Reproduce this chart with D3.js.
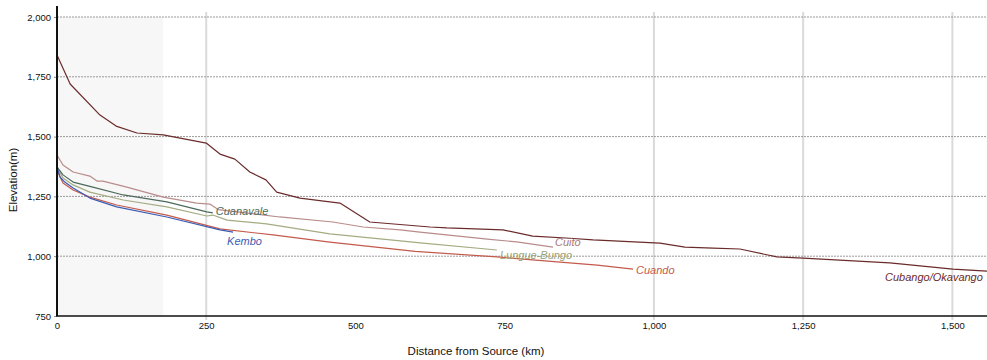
<!DOCTYPE html>
<html><head><meta charset="utf-8">
<script src="https://cdn.jsdelivr.net/npm/d3@7"></script>
<style>
body{margin:0;background:#fff;}
svg{display:block;font-family:"Liberation Sans",Arial,sans-serif;}
</style></head>
<body><svg id="c" width="987" height="360"></svg>
<script>
const yTicks = [750, 1000, 1250, 1500, 1750, 2000];
const xTicks = [0, 250, 500, 750, 1000, 1250, 1500];
const xGridTicks = [250, 1000, 1250, 1500];
const shadedKm = [0, 178];

const riverNames = ["Cubango/Okavango", "Cuito", "Cuanavale", "Lungue-Bungo", "Cuando", "Kembo"];
const riverColors = ["#6b2b2b", "#b98c8c", "#4c6a5c", "#a4ac82", "#c35a4c", "#3b5cb6"];
const labelColors = ["#6b2b2b", "#a87878", "#4c6a5c", "#9aa478", "#c35a4c", "#3b5cb6"];

const cubango = [[0,1841],[22,1720],[72,1590],[99,1544],[134,1515],[178,1507],[250,1473],[273,1427],[298,1406],[323,1352],[350,1319],[368,1268],[407,1243],[457,1227],[474,1222],[524,1143],[625,1122],[653,1118],[747,1110],[797,1084],[859,1075],[898,1068],[1010,1055],[1052,1038],[1099,1034],[1144,1030],[1206,997],[1250,992],[1395,972],[1501,946],[1558,938]];
const cuito = [[0,1423],[10,1381],[27,1352],[55,1335],[67,1314],[77,1314],[117,1289],[178,1247],[234,1222],[256,1218],[270,1195],[373,1164],[462,1143],[513,1122],[575,1110],[608,1101],[725,1070],[770,1060],[831,1038]];
const cuanavale = [[0,1373],[10,1340],[27,1310],[60,1289],[111,1256],[184,1227],[251,1185],[261,1181]];
const lungueBungo = [[0,1373],[10,1327],[27,1298],[55,1268],[111,1235],[184,1206],[251,1168],[261,1172],[285,1151],[351,1135],[457,1093],[613,1055],[737,1026]];
const cuando = [[0,1360],[10,1306],[27,1277],[55,1247],[100,1214],[184,1172],[273,1114],[362,1089],[457,1059],[600,1020],[737,997],[905,963],[965,946]];
const kembo = [[0,1373],[5,1331],[13,1310],[27,1285],[55,1243],[100,1206],[184,1164],[273,1110],[295,1101]];

const seriesValues = [cubango, cuito, cuanavale, lungueBungo, cuando, kembo];
// label offsets relative to last point (px)
const labelOffsets = [[-102,6],[2,-5],[3,-2],[3,5],[3,1],[-6,9]];

const svg = d3.select("#c");
const x = d3.scaleLinear().domain([0, 1558]).range([57, 987]);
const y = d3.scaleLinear().domain([750, 2000]).range([316, 17]);

// shaded band
svg.append("rect").attr("x", x(shadedKm[0])).attr("y", y(2000))
  .attr("width", x(shadedKm[1]) - x(shadedKm[0])).attr("height", y(750) - y(2000))
  .attr("fill", "#f7f7f7");

// vertical gridlines
svg.append("g").selectAll("line").data(xGridTicks).join("line")
  .attr("x1", d => x(d)).attr("x2", d => x(d)).attr("y1", 12).attr("y2", 320)
  .attr("stroke", "#dadada").attr("stroke-width", 2);

// horizontal dashed gridlines
svg.append("g").selectAll("line").data(yTicks.filter(d => d > 750)).join("line")
  .attr("x1", x(0)).attr("x2", 987).attr("y1", d => y(d)).attr("y2", d => y(d))
  .attr("stroke", "#9a9a9a").attr("stroke-width", 1).attr("stroke-dasharray", "2,1");

// lines
const line = d3.line().x(d => x(d[0])).y(d => y(d[1]));
const order = [0, 1, 3, 4, 2, 5];
svg.append("g").selectAll("path").data(order).join("path")
  .attr("d", i => line(seriesValues[i]))
  .attr("fill", "none").attr("stroke", i => riverColors[i]).attr("stroke-width", 1.2)
  .attr("stroke-linejoin", "round");

// labels
svg.append("g").selectAll("text").data(riverNames).join("text")
  .attr("x", (d, i) => x(seriesValues[i][seriesValues[i].length - 1][0]) + labelOffsets[i][0])
  .attr("y", (d, i) => y(seriesValues[i][seriesValues[i].length - 1][1]) + labelOffsets[i][1])
  .attr("dy", "0.35em")
  .attr("font-size", 11).attr("font-style", "italic")
  .attr("fill", (d, i) => labelColors[i])
  .text(d => d);

// axes
const yAxis = d3.axisLeft(y).tickValues(yTicks).tickFormat(d3.format(",")).tickSize(3);
const gy = svg.append("g").attr("transform", `translate(${x(0)},0)`).call(yAxis);
gy.select(".domain").remove();
gy.selectAll("text").attr("font-size", 9.5).attr("fill", "#111").attr("font-family", "Liberation Sans, Arial, sans-serif");
gy.selectAll("line").attr("stroke", "#888");

const xAxis = d3.axisBottom(x).tickValues(xTicks).tickFormat(d3.format(",")).tickSize(0).tickPadding(6);
const gx = svg.append("g").attr("transform", `translate(0,${y(750)})`).call(xAxis);
gx.select(".domain").remove();
gx.selectAll("text").attr("font-size", 9.5).attr("fill", "#111").attr("font-family", "Liberation Sans, Arial, sans-serif");

svg.append("line").attr("x1", x(0)).attr("x2", x(0)).attr("y1", 6).attr("y2", y(750))
  .attr("stroke", "#111").attr("stroke-width", 2);
svg.append("line").attr("x1", x(0) - 1).attr("x2", 987).attr("y1", y(750)).attr("y2", y(750))
  .attr("stroke", "#111").attr("stroke-width", 1.5);

svg.append("text").attr("x", 476).attr("y", 355).attr("text-anchor", "middle")
  .attr("font-size", 11.5).attr("fill", "#111").text("Distance from Source (km)");
svg.append("text").attr("transform", "translate(17,180) rotate(-90)").attr("text-anchor", "middle")
  .attr("font-size", 11.5).attr("fill", "#111").text("Elevation(m)");
</script></body></html>
